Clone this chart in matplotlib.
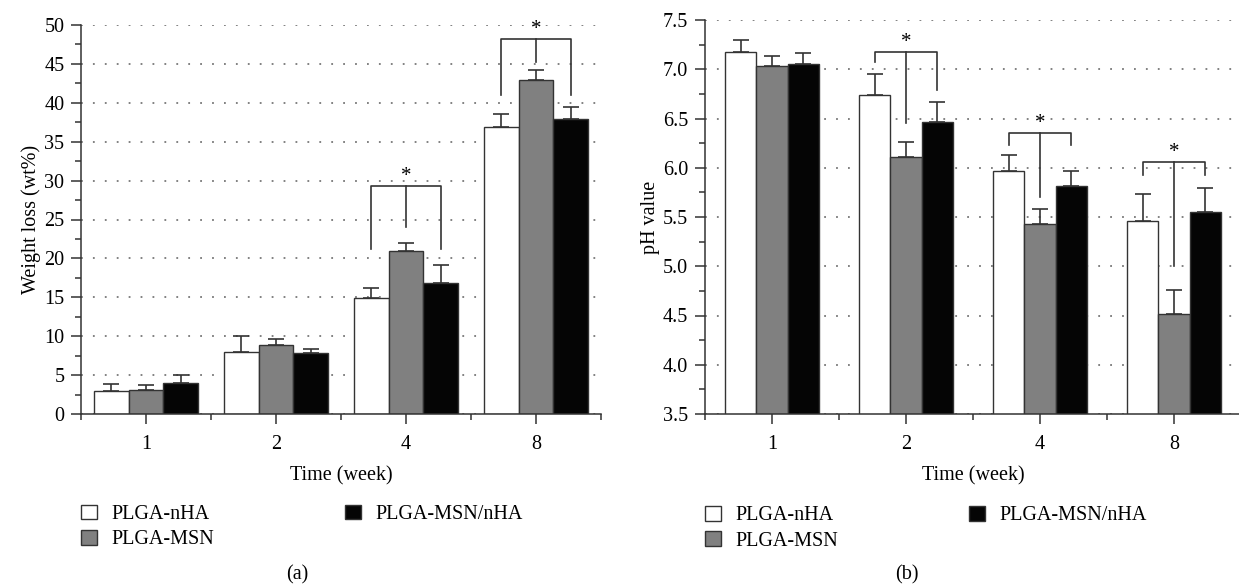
import matplotlib
matplotlib.use('Agg')
import matplotlib.pyplot as plt
import numpy as np
from matplotlib.patches import Patch

plt.rcParams['font.family'] = ['Liberation Serif', 'DejaVu Serif']
plt.rcParams['font.size'] = 14.5

weeks = ['1', '2', '4', '8']
groups = ['PLGA-nHA', 'PLGA-MSN', 'PLGA-MSN/nHA']
colors = ['white', '#808080', '#050505']

# (a) weight loss
wl_nha = [3.0, 8.0, 14.9, 36.9]
wl_msn = [3.1, 8.9, 20.9, 42.9]
wl_mix = [4.0, 7.8, 16.9, 37.9]
wl_nha_err = [0.9, 2.0, 1.3, 1.6]
wl_msn_err = [0.6, 0.7, 1.1, 1.3]
wl_mix_err = [1.0, 0.6, 2.2, 1.5]

# (b) pH value
ph_nha = [7.18, 6.74, 5.97, 5.46]
ph_msn = [7.03, 6.11, 5.43, 4.52]
ph_mix = [7.05, 6.46, 5.81, 5.55]
ph_nha_err = [0.12, 0.21, 0.16, 0.27]
ph_msn_err = [0.10, 0.15, 0.15, 0.24]
ph_mix_err = [0.11, 0.21, 0.16, 0.24]

# significance brackets: group index, top, left leg end, right leg end, middle end
sig_a = [(2, 29.3, 21.2, 21.2, 24.1), (3, 48.2, 41.0, 41.0, 45.3)]
sig_b = [(1, 7.18, 7.07, 6.79, 6.45), (2, 6.35, 6.23, 6.23, 5.70), (3, 6.06, 5.93, 5.93, 5.00)]

edge = '#333333'


def panel(ax, series, errs, width, ylim, yticks, ylabel, sig, fmt):
    x = np.arange(1, len(weeks) + 1)
    for i, (vals, err) in enumerate(zip(series, errs)):
        xs = x + (i - 1) * width
        ax.bar(xs, vals, width, color=colors[i], edgecolor=edge, linewidth=1.0, zorder=2)
        ax.errorbar(xs, vals, yerr=[np.zeros(len(err)), err], fmt='none', ecolor=edge,
                    elinewidth=1.2, capsize=6, capthick=1.2, zorder=3)
    for g, top, yl, yr, ym in sig:
        xl, xm, xr = x[g] - width, x[g], x[g] + width
        ax.plot([xl, xl, xr, xr], [yl, top, top, yr], color=edge, lw=1.2, zorder=4)
        ax.plot([xm, xm], [top, ym], color=edge, lw=1.2, zorder=4)
        ax.text(xm, top, '*', ha='center', va='bottom', fontsize=15)
    ax.set_xlim(0.5, 4.5)
    ax.set_ylim(*ylim)
    ax.set_xticks(x)
    ax.set_xticklabels(weeks)
    ax.set_xticks([0.5, 1.5, 2.5, 3.5, 4.5], minor=True)
    ax.set_yticks(yticks)
    ax.set_yticklabels([fmt % v for v in yticks])
    ax.set_yticks(np.arange(ylim[0], ylim[1] + 1e-9, (yticks[1] - yticks[0]) / 2), minor=True)
    ax.yaxis.grid(True, linestyle=(0, (1, 5.6)), color='#777777', lw=1.3)
    ax.set_axisbelow(True)
    for s in ['top', 'right']:
        ax.spines[s].set_visible(False)
    for s in ['left', 'bottom']:
        ax.spines[s].set_color(edge)
        ax.spines[s].set_linewidth(1.1)
    ax.tick_params(which='major', direction='out', length=7, width=1.1, color=edge)
    ax.tick_params(which='minor', direction='out', length=4, width=1.1, color=edge)
    ax.tick_params(axis='x', pad=8)
    ax.tick_params(axis='y', pad=5)
    ax.set_xlabel('Time (week)', labelpad=9)
    ax.set_ylabel(ylabel, labelpad=2)
    handles = [Patch(facecolor=c, edgecolor=edge, linewidth=1.0) for c in colors]
    ax.legend(handles, groups, ncol=2, loc='upper left', bbox_to_anchor=(0.0, -0.233),
              frameon=False, handlelength=0.8, handleheight=0.75, handletextpad=0.7,
              columnspacing=6.5, labelspacing=0.3, borderaxespad=0, borderpad=0)


fig = plt.figure(figsize=(12.39, 5.86), dpi=100)
ax1 = fig.add_axes([81 / 1239, 1 - 414 / 586, 520 / 1239, 389 / 586])
ax2 = fig.add_axes([705 / 1239, 1 - 414 / 586, 536 / 1239, 394 / 586])

panel(ax1, [wl_nha, wl_msn, wl_mix], [wl_nha_err, wl_msn_err, wl_mix_err], 0.267,
      (0, 50), np.arange(0, 51, 5), 'Weight loss (wt%)', sig_a, '%d')
panel(ax2, [ph_nha, ph_msn, ph_mix], [ph_nha_err, ph_msn_err, ph_mix_err], 0.235,
      (3.5, 7.5), np.arange(3.5, 7.51, 0.5), 'pH value', sig_b, '%.1f')

fig.text(297 / 1239, 1 - 575 / 586, '(a)', ha='center', va='center')
fig.text(907 / 1239, 1 - 575 / 586, '(b)', ha='center', va='center')

fig.savefig('out.png', dpi=100)
